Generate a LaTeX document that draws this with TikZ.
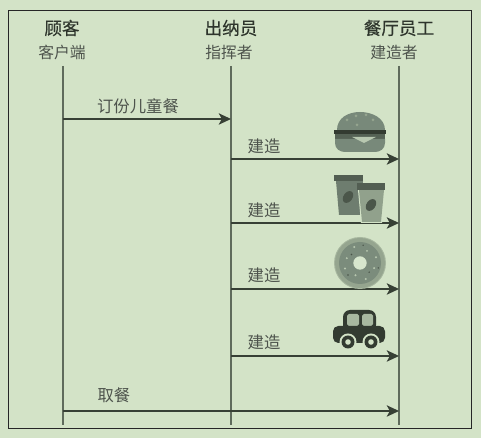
\documentclass[tikz,border=0pt]{standalone}
\usepackage{fontspec}
\setmainfont{Noto Sans CJK SC}
\newfontfamily\cabecera[FakeBold=0.4]{Noto Sans CJK SC}
\usetikzlibrary{arrows.meta}
\definecolor{fondo}{HTML}{D3E3C7}
\definecolor{tinta}{HTML}{2E352C}
\definecolor{vida}{HTML}{5F6B5C}
\definecolor{oscuro}{HTML}{333B31}
\definecolor{medio}{HTML}{78897A}
\definecolor{claro}{HTML}{95A58F}
\tikzset{
  titulo/.style={text=tinta,font=\fontsize{10}{11}\selectfont\cabecera,inner sep=0pt},
  rol/.style={text=tinta!85,font=\fontsize{9}{10}\selectfont,inner sep=0pt},
  etiqueta/.style={text=tinta!85,font=\fontsize{9.3}{10}\selectfont,inner sep=0pt},
  lifeline/.style={vida,line width=1pt},
  mensaje/.style={oscuro!90!vida,line width=0.8pt,-{Stealth[length=7pt,width=6.5pt,inset=1.8pt]}}
}
\begin{document}
\begin{tikzpicture}[x=0.02cm,y=-0.02cm]
  % Ventana
  \fill[fondo] (0,0) rectangle (481,438);
  \useasboundingbox (0,0) rectangle (481,438);
  \draw[black!85,line width=0.55pt] (8,10) rectangle (471,428);

  % Cabeceras
  \node[titulo] (guke) at (62,28) {顾客};
  \node[rol] (kehu) at (62,52) {客户端};
  \node[titulo] (chuna) at (231,28) {出纳员};
  \node[rol] (zhihui) at (229,52) {指挥者};
  \node[titulo] (yuangong) at (399,28) {餐厅员工};
  \node[rol] (jianzao) at (394,52) {建造者};

  % Lineas de vida
  \foreach \n/\x in {a/63,b/231,c/399}{
    \coordinate (\n top) at (\x,66);
    \coordinate (\n bot) at (\x,425);
    \draw[lifeline] (\n top) -- (\n bot);
  }

  % Mensajes
  \coordinate (pedA) at (63,119);
  \coordinate (pedB) at (231,119);
  \draw[mensaje] (pedA) -- (pedB);
  \node[etiqueta] (pedido) at (138,106) {订份儿童餐};
  \foreach \n/\y/\t in {1/159/146,2/223/210,3/289/275,4/356/342}{
    \coordinate (ini\n) at (231,\y);
    \coordinate (fin\n) at (399,\y);
    \draw[mensaje] (ini\n) -- (fin\n);
    \node[etiqueta] (paso\n) at (264,\t) {建造};
  }
  \coordinate (recA) at (63,411);
  \coordinate (recB) at (399,411);
  \draw[mensaje] (recA) -- (recB);
  \node[etiqueta] (recoger) at (114,395) {取餐};

  % Hamburguesa
  \fill[medio] (337,130) .. controls (337,118) and (348,112) .. (360,112)
    .. controls (372,112) and (385,118) .. (385,130) -- cycle;
  \foreach \p in {(347,120),(356,116),(357,125),(373,120),(366,115)}
    \fill[claro] \p circle (1.5);
  \fill[oscuro] (334,130) rectangle (386,134);
  \fill[medio!50!oscuro] (335,134) rectangle (385,139);
  \fill[medio] (335,139) -- (385,139) -- (385,143)
    .. controls (385,149) and (380,152) .. (375,152) -- (345,152)
    .. controls (340,152) and (335,149) .. (335,143) -- cycle;
  \fill[fondo!70!medio] (352,137) -- (376,137) -- (364,143) -- cycle;

  % Vasos
  \fill[medio!85!oscuro] (336,181) -- (363,181) -- (360,215) -- (339,215) -- cycle;
  \fill[medio!45!oscuro] (334,175) rectangle (363,181);
  \fill[medio!35!oscuro] (348,197) ellipse [x radius=4.5,y radius=6.5,rotate=-35];
  \fill[fondo] (358,190) -- (385,190) -- (382,223) -- (361,223) -- cycle;
  \fill[claro!85!medio] (359,190) -- (384,190) -- (381,222) -- (362,222) -- cycle;
  \fill[medio!45!oscuro] (357,183) rectangle (385,190);
  \fill[medio!35!oscuro] (371,205) ellipse [x radius=4.5,y radius=6.5,rotate=-35];

  % Donut
  \fill[claro!70!fondo] (360,263) circle (26);
  \fill[claro] (360,263) circle (25);
  \fill[medio!90!claro] (360,263) circle (21);
  \fill[fondo!90!white] (360,263) circle (6.7);
  \foreach \a/\r in {20/15,70/17,110/13,160/16,200/14,250/17,300/14,340/17}
    \fill[fondo!70!medio] (360,263) ++(\a:\r) circle (1.1);
  \foreach \a/\r in {45/13,135/17,225/12,280/18,15/19}
    \fill[oscuro!70!medio] (360,263) ++(\a:\r) circle (0.8);

  % Coche
  \fill[oscuro,rounded corners=4] (343,310) rectangle (376,332);
  \fill[claro!70!fondo,rounded corners=1] (347,314) rectangle (359,326);
  \fill[claro!70!fondo,rounded corners=1] (362,314) rectangle (373,326);
  \fill[oscuro,rounded corners=3] (333,326) rectangle (385,343);
  \foreach \x in {348,371}{
    \fill[fondo] (\x,342) circle (8.5);
    \fill[oscuro] (\x,342) circle (6.5);
    \fill[fondo] (\x,342) circle (2.8);
  }
\end{tikzpicture}
\end{document}
